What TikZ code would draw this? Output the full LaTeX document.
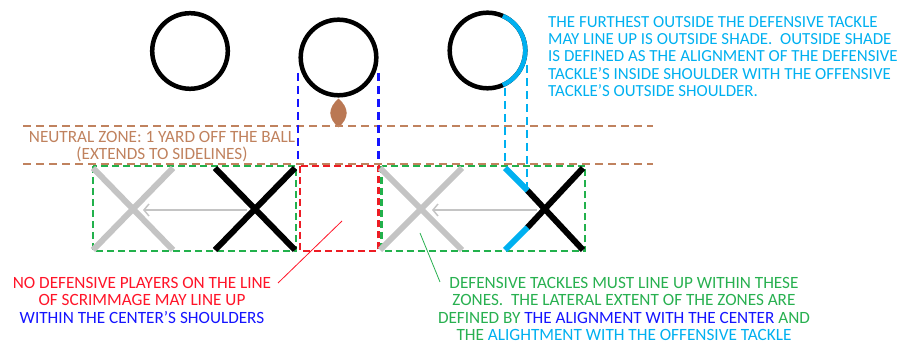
\documentclass[tikz,border=0pt]{standalone}
\usepackage{fontspec}
\setmainfont{Carlito}
\usetikzlibrary{arrows.meta,calc}
\definecolor{brn}{RGB}{192,130,94}
\definecolor{balc}{RGB}{186,120,84}
\definecolor{cyant}{RGB}{0,176,240}
\definecolor{bluet}{RGB}{20,20,255}
\definecolor{greent}{RGB}{40,176,80}
\definecolor{greenb}{RGB}{34,177,76}
\definecolor{redt}{RGB}{255,20,40}
\definecolor{redb}{RGB}{237,28,36}
\definecolor{grayx}{RGB}{196,196,196}
\begin{document}
\begin{tikzpicture}[x=1pt,y=-1pt,
  txt/.style={inner sep=0pt, font=\fontsize{17.2}{17.4}\selectfont},
  player/.style={circle, draw=black, line width=4.5pt, minimum size=75.6pt, inner sep=0pt},
  nzline/.style={draw=brn, line width=2.5pt, dash pattern=on 8pt off 5pt},
  zonebox/.style={draw=greenb, line width=2.5pt, dash pattern=on 7pt off 4pt},
  cbox/.style={draw=redb, line width=2.5pt, dash pattern=on 7pt off 4pt},
  shoulder/.style={line width=2.5pt, dash pattern=on 8pt off 5pt},
  xarm/.style={line width=6pt},
  move/.style={draw=grayx, line width=2pt, -{Straight Barb[length=5pt,width=12pt,line width=1.5pt]}},
  leader/.style={line width=0.8pt}]
\useasboundingbox (0,0) rectangle (908,344);

% offensive players
\node[player] (og) at (190,51) {};
\node[player] (ctr) at (338.5,57.5) {};
\node[player] (ot) at (487.5,50.5) {};
\draw[cyant, line width=4.5pt] ($(ot.center)+(66:37.8)$) arc[start angle=66, end angle=-66, radius=37.8];

% ball
\draw[balc, fill=balc] (338.5,99) .. controls (349,108) and (349,118) .. (338.5,127)
  .. controls (328,118) and (328,108) .. (338.5,99) -- cycle;

% neutral zone
\coordinate (nzTL) at (23,126);
\coordinate (nzTR) at (653,126);
\coordinate (nzBL) at (23,164);
\coordinate (nzBR) at (653,164);
\draw[nzline] (nzTL) -- (nzTR);
\draw[nzline] (nzBL) -- (nzBR);

% shoulder lines
\draw[shoulder, draw=bluet] (298,73) -- (298,163);
\draw[shoulder, draw=bluet] (378.5,73) -- (378.5,163);
\draw[shoulder, draw=cyant] (505,88) -- (505,166);
\draw[shoulder, draw=cyant] (527,65) -- (527,193);

% zones
\draw[zonebox] (93,166) rectangle (296,251);
\draw[zonebox] (381.5,166) rectangle (585,251);
\draw[cbox] (300,166) rectangle (378.5,251);

% defensive tackles: gray (moved from) and black
\draw[xarm, draw=grayx] (93,168) -- (173,250) (173,168) -- (93,250);
\draw[xarm, draw=grayx] (380,168) -- (462,250) (462,168) -- (380,250);
\draw[xarm, draw=black] (215,168) -- (295,250) (295,168) -- (215,250);
\draw[xarm, draw=black] (527,190) -- (583,250) (583,168) -- (527,228);
\draw[xarm, draw=cyant] (505,168) -- (527.5,190.5);
\draw[xarm, draw=cyant] (505,250) -- (527.5,227.5);

% moves
\coordinate (m1s) at (247,210);
\coordinate (m1e) at (143,210);
\coordinate (m2s) at (537,210);
\coordinate (m2e) at (432,210);
\draw[move] (m1s) -- (m1e);
\draw[move] (m2s) -- (m2e);

% texts
\node[txt, text=brn, anchor=north, align=center] (nztxt) at (162,131)
  {NEUTRAL ZONE: 1 YARD OFF THE BALL\\(EXTENDS TO SIDELINES)};
\node[txt, text=cyant, anchor=north west, align=left, font=\fontsize{16.9}{17.4}\selectfont] (shadetxt) at (548,16)
  {THE FURTHEST OUTSIDE THE DEFENSIVE TACKLE\\
   MAY LINE UP IS OUTSIDE SHADE.\ \ OUTSIDE SHADE\\
   IS DEFINED AS THE ALIGNMENT OF THE DEFENSIVE\\
   TACKLE'S INSIDE SHOULDER WITH THE OFFENSIVE\\
   TACKLE'S OUTSIDE SHOULDER.};
\node[txt, text=redt, anchor=north, align=center] (ctrtxt) at (142,277)
  {NO DEFENSIVE PLAYERS ON THE LINE\\OF SCRIMMAGE MAY LINE UP\\
   \textcolor{bluet}{WITHIN THE CENTER'S SHOULDERS}};
\node[txt, text=greent, anchor=north, align=center] (zonetxt) at (624,277)
  {DEFENSIVE TACKLES MUST LINE UP WITHIN THESE\\
   ZONES.\ \ THE LATERAL EXTENT OF THE ZONES ARE\\
   DEFINED BY \textcolor{bluet}{THE ALIGNMENT WITH THE CENTER} AND\\
   THE \textcolor{cyant}{ALIGHTMENT WITH THE OFFENSIVE TACKLE}};

% leaders
\coordinate (redtail) at (278,283);
\coordinate (redpt) at (342,221);
\coordinate (greentail) at (440,282);
\coordinate (greenpt) at (420,233);
\draw[leader, draw=redt] (redtail) -- (redpt);
\draw[leader, draw=greent] (greentail) -- (greenpt);
\end{tikzpicture}
\end{document}
